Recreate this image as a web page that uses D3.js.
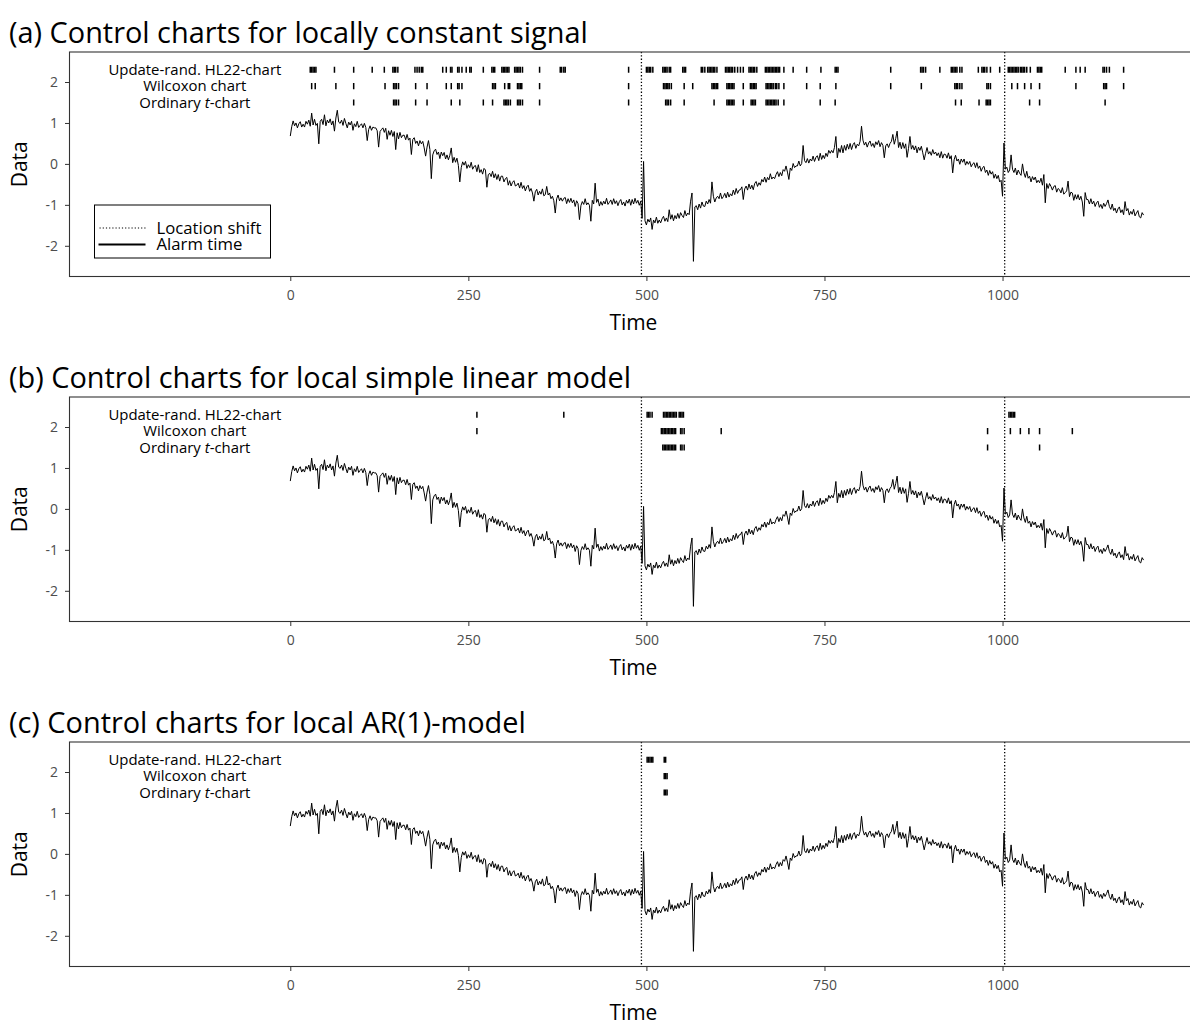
<!DOCTYPE html>
<html>
<head>
<meta charset="utf-8">
<script src="https://cdn.jsdelivr.net/npm/d3@7"></script>
<style>
  html, body { margin: 0; padding: 0; background: #fff; }
  svg text { font-family: "Open Sans", "DejaVu Sans", sans-serif; }
</style>
</head>
<body>
<svg id="chart" width="1190" height="1025"></svg>
<script>
// ---- data -------------------------------------------------------------
// observed series, one value every STEP time units starting at t = 0
const STEP = 2;
const seriesValues = [
  0.68, 0.91, 1.05, 0.93, 1.00, 0.88, 0.98, 1.03, 0.90, 0.97, 0.90, 1.04, 0.97, 1.07, 0.92, 1.24, 0.95, 1.09, 0.94, 0.99,
  0.49, 1.04, 1.09, 0.96, 1.20, 0.93, 1.07, 1.00, 1.10, 0.95, 1.05, 0.80, 1.12, 1.31, 1.02, 0.99, 1.07, 0.94, 1.11, 0.99,
  0.88, 1.02, 0.95, 1.04, 0.82, 0.98, 0.91, 1.04, 0.89, 0.94, 0.98, 0.88, 0.99, 0.89, 0.57, 0.84, 0.93, 0.82, 0.90, 0.88,
  0.88, 0.81, 0.41, 0.79, 0.84, 0.88, 0.77, 0.87, 0.60, 0.81, 0.70, 0.82, 0.67, 0.79, 0.35, 0.76, 0.61, 0.77, 0.64, 0.70,
  0.70, 0.59, 0.72, 0.58, 0.63, 0.23, 0.60, 0.64, 0.50, 0.56, 0.44, 0.57, 0.49, 0.55, 0.39, 0.19, 0.41, 0.57, 0.35, -0.36,
  0.22, 0.32, 0.36, 0.23, 0.29, 0.13, 0.29, 0.20, 0.28, 0.12, 0.22, 0.10, 0.21, 0.39, 0.03, 0.16, 0.04, 0.14, -0.04, -0.44,
  -0.09, 0.05, -0.03, 0.06, -0.11, -0.02, -0.09, 0.04, -0.13, -0.06, -0.04, -0.19, -0.02, -0.21, -0.14, -0.25, -0.11, -0.15, -0.57, -0.26,
  -0.23, -0.31, -0.18, -0.34, -0.24, -0.38, -0.26, -0.42, -0.30, -0.30, -0.44, -0.36, -0.33, -0.52, -0.41, -0.54, -0.45, -0.41, -0.54, -0.52,
  -0.47, -0.59, -0.45, -0.60, -0.53, -0.66, -0.56, -0.52, -0.67, -0.60, -0.71, -0.91, -0.68, -0.62, -0.76, -0.67, -0.74, -0.61, -0.78, -0.75,
  -0.55, -0.76, -0.71, -0.85, -0.79, -0.90, -1.20, -0.85, -0.76, -0.90, -0.83, -0.91, -0.84, -0.82, -0.97, -0.85, -0.94, -0.84, -0.95, -0.88,
  -1.04, -0.90, -0.97, -1.36, -1.02, -0.92, -0.99, -0.85, -1.00, -0.95, -1.01, -1.40, -0.89, -0.98, -0.47, -0.94, -0.86, -1.03, -0.92, -1.01,
  -0.91, -0.98, -0.84, -0.99, -0.94, -0.88, -0.99, -0.85, -0.97, -0.90, -1.02, -0.92, -0.87, -1.00, -0.93, -1.03, -0.89, -0.96, -0.86, -1.01,
  -0.87, -0.98, -0.84, -0.96, -0.89, -1.01, -0.91, -1.33, 0.06, -1.39, -1.49, -1.35, -1.42, -1.32, -1.60, -1.37, -1.44, -1.30, -1.45, -1.37,
  -1.44, -1.34, -1.28, -1.40, -1.32, -1.41, -1.12, -1.35, -1.24, -1.39, -1.26, -1.34, -1.21, -1.33, -1.19, -1.26, -1.31, -1.14, -1.27, -1.20,
  -1.24, -0.91, -0.71, -2.38, -1.05, -1.02, -1.12, -0.98, -1.08, -0.93, -1.03, -1.04, -0.91, -0.98, -0.87, -0.96, -0.44, -0.79, -0.93, -0.83,
  -0.79, -0.85, -0.71, -0.85, -0.80, -0.72, -0.83, -0.69, -0.81, -0.73, -0.78, -0.64, -0.75, -0.60, -0.72, -0.64, -0.63, -0.56, -0.87, -0.61,
  -0.54, -0.64, -0.49, -0.61, -0.52, -0.63, -0.48, -0.43, -0.55, -0.46, -0.52, -0.38, -0.44, -0.32, -0.45, -0.33, -0.39, -0.24, -0.37, -0.32,
  -0.36, -0.26, -0.19, -0.31, -0.21, -0.29, -0.14, -0.18, -0.05, -0.20, -0.38, -0.10, -0.16, 0.01, -0.09, -0.05, -0.05, 0.07, -0.05, 0.01,
  0.45, 0.08, 0.03, 0.13, 0.02, 0.12, 0.07, 0.19, 0.06, 0.16, 0.20, 0.08, 0.26, 0.11, 0.21, 0.13, 0.26, 0.18, 0.33, 0.26,
  0.33, 0.27, 0.40, 0.67, 0.15, 0.38, 0.28, 0.45, 0.27, 0.45, 0.33, 0.48, 0.36, 0.50, 0.35, 0.47, 0.52, 0.38, 0.48, 0.44,
  0.55, 0.92, 0.58, 0.46, 0.53, 0.41, 0.51, 0.56, 0.43, 0.50, 0.40, 0.54, 0.47, 0.57, 0.42, 0.52, 0.45, 0.15, 0.44, 0.49,
  0.40, 0.50, 0.55, 0.72, 0.48, 0.62, 0.80, 0.40, 0.53, 0.37, 0.52, 0.38, 0.49, 0.16, 0.38, 0.67, 0.36, 0.45, 0.34, 0.44,
  0.27, 0.41, 0.33, 0.43, 0.27, 0.10, 0.26, 0.40, 0.24, 0.30, 0.21, 0.35, 0.24, 0.29, 0.20, 0.27, 0.15, 0.30, 0.14, 0.24,
  0.23, 0.14, 0.27, 0.12, 0.20, -0.22, 0.10, 0.21, 0.07, 0.12, -0.01, 0.12, 0.04, 0.12, -0.03, 0.06, -0.01, 0.06, -0.07, 0.00,
  0.03, -0.09, 0.03, -0.11, -0.05, -0.18, -0.09, -0.06, -0.21, -0.15, -0.28, -0.16, -0.25, -0.19, -0.35, -0.25, -0.36, -0.28, -0.44, -0.40,
  -0.79, 0.51, -0.13, -0.08, -0.21, -0.15, 0.22, -0.13, -0.21, -0.10, -0.27, -0.15, -0.23, -0.28, 0.00, -0.22, -0.33, -0.18, -0.35, -0.30,
  -0.44, -0.31, -0.39, -0.32, -0.46, -0.40, -0.46, -0.35, -0.52, -0.26, -0.95, -0.48, -0.60, -0.48, -0.55, -0.64, -0.55, -0.53, -0.69, -0.60,
  -0.63, -0.71, -0.58, -0.74, -0.70, -0.66, -0.42, -0.80, -0.69, -0.71, -0.89, -0.75, -0.86, -0.75, -0.88, -0.79, -0.93, -1.28, -0.70, -0.87,
  -0.87, -0.98, -0.85, -0.98, -0.91, -1.04, -0.95, -0.91, -1.06, -0.99, -1.09, -0.96, -1.04, -0.97, -0.88, -1.04, -1.11, -0.98, -1.14, -1.08,
  -1.20, -1.10, -1.05, -1.19, -1.12, -1.24, -0.92, -1.15, -1.09, -1.25, -1.16, -1.23, -1.11, -1.27, -1.20, -1.14, -1.29, -1.32, -1.19, -1.25
];

// times of the two location shifts
const shiftTimes = [493, 1003];

// chart names, drawn as row labels
const chartNames = ["Update-rand. HL22-chart", "Wilcoxon chart", "Ordinary t-chart"];
// data-level of each alarm row
const rowLevels = [2.3, 1.9, 1.5];

const panelTitles = [
  "(a) Control charts for locally constant signal",
  "(b) Control charts for local simple linear model",
  "(c) Control charts for local AR(1)-model"
];

// alarm times, panel (a)
const alarmsA_HL22 = [28, 30, 32, 34, 36, 62, 89, 115, 132, 144, 146, 148, 151, 175, 178, 181, 184, 186,
  214, 219, 225, 227, 235, 237, 241, 247, 252, 254, 271, 283, 285, 287, 297, 299, 301, 303, 305, 307,
  315, 317, 319, 321, 323, 326, 350, 379, 381, 384, 386, 475, 500, 502, 504, 506, 509, 523, 525, 527,
  529, 532, 534, 551, 553, 555, 577, 579, 582, 586, 588, 590, 592, 594, 596, 599, 611, 613, 615, 617,
  619, 621, 624, 628, 632, 636, 644, 646, 648, 650, 652, 655, 667, 669, 671, 673, 675, 677, 679, 681,
  683, 685, 687, 693, 706, 725, 745, 765, 767, 769, 843, 885, 887, 889, 892, 912, 928, 930, 932, 934,
  936, 940, 943, 966, 971, 973, 975, 978, 983, 996, 1008, 1010, 1012, 1014, 1016, 1018, 1020, 1022,
  1025, 1027, 1029, 1031, 1034, 1039, 1049, 1051, 1053, 1055, 1088, 1103, 1109, 1116, 1141, 1143,
  1146, 1150, 1170];
const alarmsA_Wilcoxon = [30, 35, 64, 89, 133, 145, 147, 149, 152, 176, 192, 219, 226, 235, 237, 241,
  284, 286, 288, 301, 306, 308, 319, 321, 323, 325, 350, 475, 524, 526, 528, 530, 532, 535, 553, 565,
  592, 594, 596, 598, 600, 613, 615, 617, 619, 621, 623, 636, 646, 648, 650, 652, 654, 668, 670, 672,
  674, 676, 678, 681, 683, 686, 693, 725, 744, 766, 843, 886, 933, 935, 937, 940, 943, 978, 980, 983,
  1013, 1021, 1031, 1040, 1052, 1103, 1142, 1144, 1146, 1170];
const alarmsA_tChart = [89, 145, 147, 149, 152, 176, 192, 226, 238, 271, 284, 300, 302, 304, 306, 309,
  319, 321, 323, 326, 350, 475, 527, 529, 531, 534, 553, 595, 613, 615, 617, 619, 621, 623, 636, 647,
  649, 651, 653, 668, 670, 672, 674, 676, 678, 680, 682, 685, 693, 744, 765, 934, 942, 967, 977, 979,
  981, 983, 1038, 1052, 1144];

// alarm times, panel (b)
const alarmsB_HL22 = [262, 384, 501, 503, 505, 508, 524, 526, 528, 530, 532, 534, 536, 538, 540, 542,
  546, 548, 550, 552, 1009, 1011, 1013, 1015, 1017];
const alarmsB_Wilcoxon = [262, 521, 523, 525, 527, 529, 531, 533, 535, 537, 539, 541, 548, 550, 553,
  605, 979, 1011, 1025, 1037, 1052, 1098];
const alarmsB_tChart = [523, 525, 527, 529, 531, 533, 535, 537, 539, 541, 548, 550, 553, 979, 1052];

// alarm times, panel (c)
const alarmsC_HL22 = [501, 503, 505, 507, 509, 525, 527];
const alarmsC_Wilcoxon = [525, 527, 529];
const alarmsC_tChart = [525, 527, 529];

const yTicks = [-2, -1, 0, 1, 2];
const xTicks = [0, 250, 500, 750, 1000];

// ---- helpers ----------------------------------------------------------
const svg = d3.select("#chart");
const FONT = "'Open Sans', 'DejaVu Sans', sans-serif";

// font size that makes `str` span `width` pixels
function sizeFor(str, width) {
  const probe = svg.append("text").attr("font-size", 20).style("font-family", FONT).text(str);
  const w = probe.node().getComputedTextLength();
  probe.remove();
  return 20 * width / w;
}
const titleSize = sizeFor(panelTitles[0], 579);
const rowSize = sizeFor(chartNames[0], 173);
const legendSize = sizeFor("Location shift", 105);
const axisTitleSize = sizeFor("Time", 48);
const tickSize = sizeFor("1000", 32);

// ---- drawing ----------------------------------------------------------
const series = seriesValues.map((v, i) => ({ t: i * STEP, v }));
const panelAlarms = [
  [alarmsA_HL22, alarmsA_Wilcoxon, alarmsA_tChart],
  [alarmsB_HL22, alarmsB_Wilcoxon, alarmsB_tChart],
  [alarmsC_HL22, alarmsC_Wilcoxon, alarmsC_tChart]
];

const left = 69.5, right = 1192, panelH = 224.5, panelGap = 345, firstTop = 52;
const x = d3.scaleLinear().domain([-310, 1266]).range([left, right]);
const labelT = -134;

panelAlarms.forEach((alarms, p) => {
  const top = firstTop + p * panelGap;
  const bottom = top + panelH;
  const y = d3.scaleLinear().domain([-2.75, 2.733]).range([bottom, top]);
  const g = svg.append("g");

  // title
  g.append("text")
    .attr("x", 9).attr("y", top - 9.5)
    .attr("font-size", titleSize).attr("fill", "#000")
    .text(panelTitles[p]);

  // clip for panel contents
  const clipId = "clip" + p;
  svg.append("clipPath").attr("id", clipId)
    .append("rect").attr("x", left).attr("y", top).attr("width", right - left).attr("height", panelH);
  const inner = g.append("g").attr("clip-path", `url(#${clipId})`);

  // shift markers
  inner.selectAll("line.shift").data(shiftTimes).join("line")
    .attr("class", "shift")
    .attr("x1", d => x(d)).attr("x2", d => x(d))
    .attr("y1", top).attr("y2", bottom)
    .attr("stroke", "#000").attr("stroke-width", 1.3)
    .attr("stroke-dasharray", "1.3,2");

  // series
  const line = d3.line().x(d => x(d.t)).y(d => y(d.v));
  inner.append("path").datum(series)
    .attr("d", line).attr("fill", "none")
    .attr("stroke", "#000").attr("stroke-width", 1).attr("stroke-linejoin", "miter");

  // alarm rows
  alarms.forEach((times, r) => {
    const c = rowLevels[r];
    inner.append("g").selectAll("line").data(times).join("line")
      .attr("x1", d => x(d)).attr("x2", d => x(d))
      .attr("y1", y(c + 0.075)).attr("y2", y(c - 0.075))
      .attr("stroke", "#000").attr("stroke-width", 1.5);

    const label = g.append("text")
      .attr("x", x(labelT)).attr("y", y(c) + rowSize * 0.36)
      .attr("text-anchor", "middle").attr("font-size", rowSize).attr("fill", "#000");
    if (r === 2) {
      label.append("tspan").text("Ordinary ");
      label.append("tspan").attr("font-style", "italic").text("t");
      label.append("tspan").text("-chart");
    } else {
      label.text(chartNames[r]);
    }
  });

  // border
  g.append("rect")
    .attr("x", left).attr("y", top).attr("width", right - left).attr("height", panelH)
    .attr("fill", "none").attr("stroke", "#333").attr("stroke-width", 1.1);

  // axes
  const yAxis = g.append("g").attr("transform", `translate(${left},0)`)
    .call(d3.axisLeft(y).tickValues(yTicks).tickSize(4.5).tickPadding(7).tickFormat(d3.format("d")));
  const xAxis = g.append("g").attr("transform", `translate(0,${bottom})`)
    .call(d3.axisBottom(x).tickValues(xTicks).tickSize(4.5).tickPadding(9.5).tickFormat(d3.format("d")));
  [yAxis, xAxis].forEach(a => {
    a.select(".domain").remove();
    a.selectAll(".tick line").attr("stroke", "#333");
    a.selectAll(".tick text").attr("fill", "#4d4d4d").attr("font-size", tickSize)
      .style("font-family", FONT);
  });
  yAxis.selectAll(".tick text").text(d => d < 0 ? "-" + Math.abs(d) : d);

  // axis titles
  g.append("text")
    .attr("transform", `translate(27,${(top + bottom) / 2}) rotate(-90)`)
    .attr("text-anchor", "middle").attr("font-size", axisTitleSize).attr("fill", "#000")
    .text("Data");
  g.append("text")
    .attr("x", (x(0) + x(1000)) / 2 - 13).attr("y", bottom + 53.5)
    .attr("text-anchor", "middle").attr("font-size", axisTitleSize).attr("fill", "#000")
    .text("Time");

  // legend (first panel only)
  if (p === 0) {
    const lg = g.append("g").attr("transform", `translate(94.5,${top + 153})`);
    lg.append("rect").attr("width", 176).attr("height", 53)
      .attr("fill", "#fff").attr("stroke", "#000").attr("stroke-width", 1);
    lg.append("line").attr("x1", 5).attr("x2", 51).attr("y1", 23).attr("y2", 23)
      .attr("stroke", "#000").attr("stroke-width", 1.2).attr("stroke-dasharray", "1.2,2");
    lg.append("line").attr("x1", 4).attr("x2", 51).attr("y1", 39.5).attr("y2", 39.5)
      .attr("stroke", "#000").attr("stroke-width", 2);
    lg.append("text").attr("x", 62).attr("y", 28.5).attr("font-size", legendSize).text("Location shift");
    lg.append("text").attr("x", 62).attr("y", 44.5).attr("font-size", legendSize).text("Alarm time");
  }
});
</script>
</body>
</html>
